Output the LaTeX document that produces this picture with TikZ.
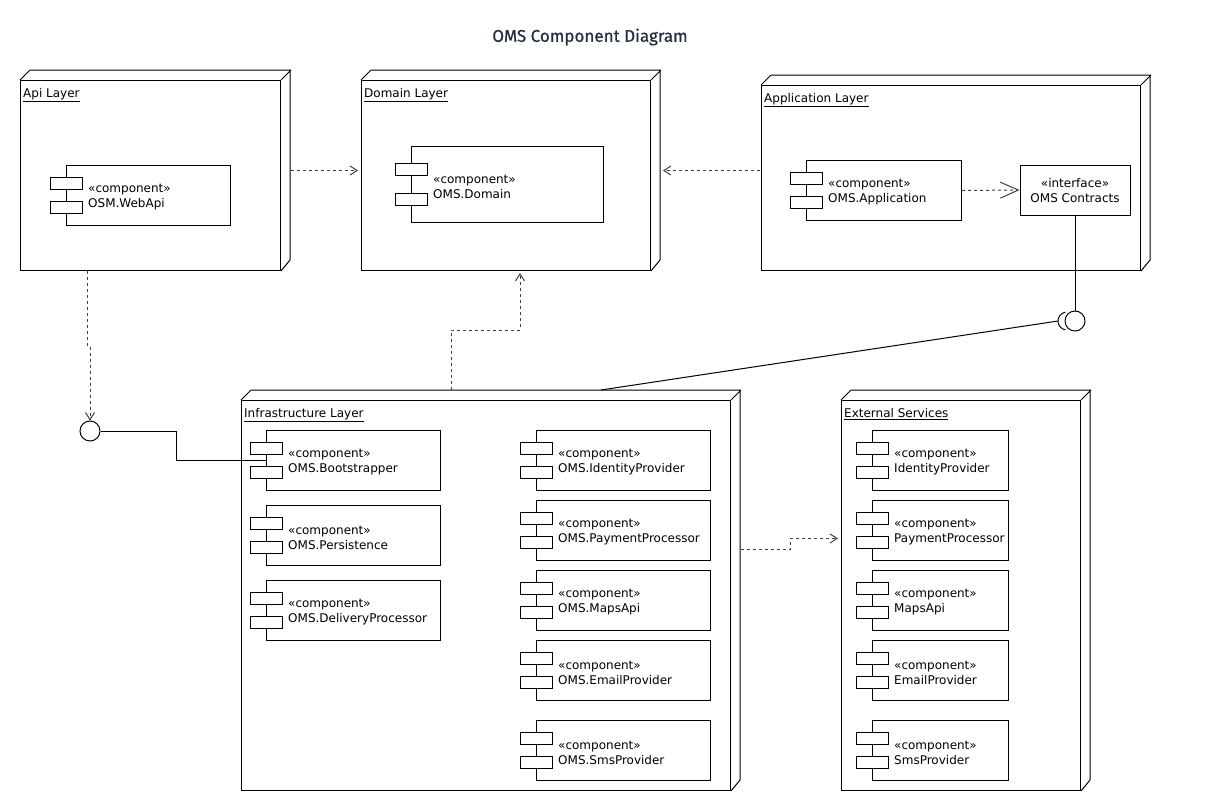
\documentclass[tikz,border=0pt]{standalone}
\usepackage{fontspec}
\setmainfont{DejaVu Sans}
\newfontfamily\titlefont{Fira Sans}
\usetikzlibrary{arrows.meta}
\definecolor{titlecol}{HTML}{232F3E}

\tikzset{
  layerbox/.style={draw, fill=white, line width=1pt, inner sep=0pt},
  layername/.style={font=\fontsize{12}{14}\selectfont, inner sep=0pt, anchor=north west},
  compbox/.style={draw, fill=white, line width=1pt, inner sep=0pt},
  tabbox/.style={draw, fill=white, line width=1pt, inner sep=0pt, minimum width=32pt, minimum height=12pt},
  comptext/.style={font=\fontsize{12}{15}\selectfont, align=left, inner sep=0pt, anchor=west},
  dep/.style={draw=black!75, line width=1pt, dash pattern=on 3pt off 3pt, -{Straight Barb[length=7pt,width=9pt]}},
  wire/.style={draw, line width=1pt},
  ball/.style={draw, circle, fill=white, line width=1pt, minimum size=20pt, inner sep=0pt}
}

\newcommand{\layer}[6]{%
  \node[layerbox, anchor=north west, minimum width=#4pt, minimum height=#5pt] (#1) at (#2,#3) {};
  \path[draw, line width=1pt] (#1.north west) -- ++(10,-10) -- ++(#4,0) -- ++(0,#5) -- (#1.south east)
    (#1.north east) -- ++(10,-10);
  \node[layername] (#1-name) at ([xshift=3pt,yshift=-8pt]#1.north west) {\underline{#6}};
}

\newcommand{\component}[6]{%
  \node[compbox, anchor=north west, minimum width=#4pt, minimum height=#5pt] (#1) at (#2,#3) {};
  \node[tabbox] (#1-tab1) at ([yshift=0.2*#5pt]#1.west) {};
  \node[tabbox] (#1-tab2) at ([yshift=-0.2*#5pt]#1.west) {};
  \node[comptext] (#1-text) at ([xshift=22pt,yshift=-2pt]#1.west) {«component»\\#6};
}

\begin{document}
\begin{tikzpicture}[x=1pt, y=-1pt]
\useasboundingbox (0,0) rectangle (1221,811);

\node[font=\titlefont\fontsize{17}{20}\selectfont\addfontfeature{FakeBold=0.6}, text=titlecol] (title) at (590,37) {OMS Component Diagram};

\layer{api}{20}{80}{260}{190}{Api Layer}
\layer{domain}{361}{80}{289}{190}{Domain Layer}
\layer{app}{761}{85}{379}{185}{Application Layer}
\layer{infra}{241}{400}{489}{390}{Infrastructure Layer}
\layer{ext}{841}{400}{239}{390}{External Services}

\component{webapi}{66}{165}{164}{60}{OSM.WebApi}
\component{domaincomp}{411}{146}{192}{76}{OMS.Domain}
\component{appcomp}{806}{160}{155}{60}{OMS.Application}
\node[compbox, minimum width=110pt, minimum height=50pt, align=center, font=\fontsize{12}{15}\selectfont, text depth=-2pt] (contracts) at (1075,190) {«interface»\\OMS Contracts};

\component{boot}{266}{430}{174}{60}{OMS.Bootstrapper}
\component{persist}{266}{505}{174}{60}{OMS.Persistence}
\component{delivery}{266}{580}{174}{60}{OMS.DeliveryProcessor}
\component{identity}{536}{430}{174}{60}{OMS.IdentityProvider}
\component{payment}{536}{500}{174}{60}{OMS.PaymentProcessor}
\component{maps}{536}{570}{174}{60}{OMS.MapsApi}
\component{email}{536}{640}{174}{60}{OMS.EmailProvider}
\component{sms}{536}{720}{174}{60}{OMS.SmsProvider}

\component{extidentity}{872}{430}{136}{60}{IdentityProvider}
\component{extpayment}{872}{500}{136}{60}{PaymentProcessor}
\component{extmaps}{872}{570}{136}{60}{MapsApi}
\component{extemail}{872}{640}{136}{60}{EmailProvider}
\component{extsms}{872}{720}{136}{60}{SmsProvider}

\node[ball] (lolli) at (1075,321) {};
\node[ball] (port) at (90,431) {};
\coordinate (socket) at ([xshift=-17pt]lolli.center);

\path[dep] ([xshift=10pt,yshift=5pt]api.east) -- ([xshift=-3pt,yshift=5pt]domain.west);
\path[dep] ([xshift=-1pt,yshift=7.5pt]app.west) -- ([xshift=12pt,yshift=5pt]domain.east);
\path[dep, -{Straight Barb[length=18pt,width=16pt]}] (appcomp.east) -- (contracts.west);
\path[wire] (contracts.south) -- (lolli.north);
\path[draw, line width=1pt] ([xshift=-8pt]lolli.center) ++(100:9pt) arc[start angle=100, end angle=260, radius=9pt];
\path[wire] (socket) -- ([xshift=115pt,yshift=10pt]infra.north);
\path[dep] ([xshift=-35pt,yshift=10pt]infra.north) -- ++(0,-60) -| ([xshift=14pt,yshift=-2pt]domain.south);
\path[dep] ([xshift=-63pt]api.south) -- ++(0,75) -| (port.north);
\path[wire] (port.east) -- ++(76,0) |- (boot.west);
\path[dep] ([xshift=10pt,yshift=46pt]infra.east) -- ++(49,0) |- ([xshift=-3pt,yshift=57pt]ext.west);
\end{tikzpicture}
\end{document}
